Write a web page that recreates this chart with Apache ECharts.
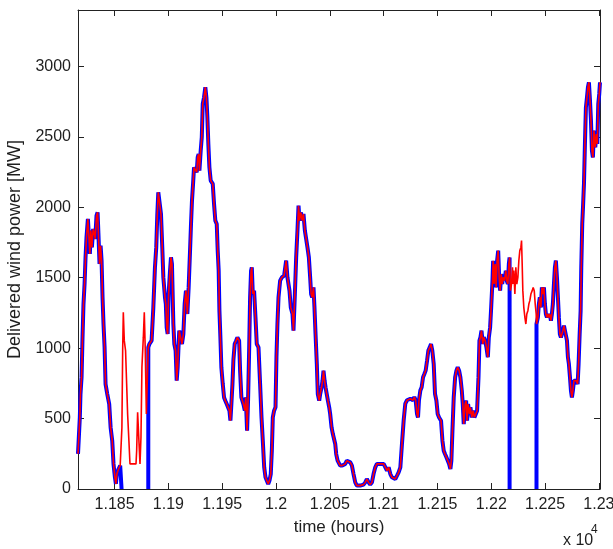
<!DOCTYPE html>
<html>
<head>
<meta charset="utf-8">
<script src="https://cdn.jsdelivr.net/npm/echarts@6/dist/echarts.min.js"></script>
<style>
  html, body { margin: 0; padding: 0; background: #fff; }
  #chart { width: 613px; height: 549px; }
</style>
</head>
<body>
<div id="chart"></div>
<script>
// hours and delivered power [MW], split where the blue trace drops out
var hoursSeg1 = [11816,11817.7,11818.3,11819.3,11820.2,11821.1,11822.1,11823,11823.9,11825.2,11826.4,11827,11827.9,11828.9,11830.1,11831,11832,11833.2,11834.2,11835.1,11836,11837,11837.9,11838.8,11839.7,11840.7,11841.6,11843.2,11845,11846.3,11847.8,11849,11850.3,11851.2,11852.1,11853.7,11855.2,11856.5];
var powerSeg1 = [250,508,674,792,1076,1313,1455,1644,1786,1917,1929,1668,1834,1715,1846,1822,1775,1940,1964,1786,1597,1727,1621,1360,1171,1005,745,674,603,437,343,178,83,36,106,142,166,166];

// red only (blue is out here)
var hoursGap1 = [11856.8,11857.5,11858.1,11859,11860.2,11861.2,11862.1,11863.3,11864.3,11869.9,11870.5,11871.4,11873,11873.6,11874.5,11875.4,11876.7,11877.6,11878.5,11879.5,11880.7];
var powerGap1 = [437,982,1254,1053,982,745,532,343,178,178,272,544,544,178,366,864,1076,1254,982,532,532];

var hoursSeg2 = [11881.3,11882.3,11884.4,11886,11887.5,11888.7,11889.7,11890.6,11892.2,11893.1,
  11894.3,11895.3,11896.8,11897.6,11898.4,11899.3,11900.2,11901.5,11902.4,11903.3,
  11904.6,11905.5,11906.7,11907.7,11908.6,11909.5,11910.1,11911.4,11912.6,11913.9,
  11915.1,11916.3,11917.6,11918.8,11920.1,11921,11921.9,11922.9,11923.8,11925,
  11926.3,11927.2,11928.1,11928.8,11930,11931,11931.9,11933.1,11934.3,11935.3,
  11936.2,11937.1,11938.1,11939.3,11941.2,11942.4,11943.6,11944.9,11945.8,11946.7,
  11947.4,11948.3,11949.2,11950.5,11951.7,11952.9,11954.2,11955.7,11956.7,11957.6,
  11958.5,11959.5,11960.4,11961.6,11962.9,11964.1,11965.7,11966.6,11967.8,11969.7,
  11971,11971.9,11973.1,11974,11975,11975.9,11976.8,11977.5,11978.4,11979.6,
  11980.9,11982.1,11983.7,11985.2,11986.5,11987.7,11989,11990.2,11991.4,11992.7,
  11993.9,11995.1,11996.1,11997,11998.2,11999.5,12000.4,12001.3,12002.3,12003.8];
var powerSeg2 = [1005,1029,1053,1289,1573,1715,1952,2106,2095,1952,
  1715,1502,1360,1313,1147,1100,1384,1550,1644,1597,
  1171,1029,982,769,864,1029,1124,1076,1029,1100,
  1313,1408,1242,1431,1692,1881,2047,2166,2283,2295,
  2248,2354,2378,2260,2402,2496,2733,2780,2852,2780,
  2638,2450,2283,2189,2166,2023,1905,1881,1692,1550,
  1266,1076,864,745,650,627,603,603,556,485,
  603,745,917,1029,1053,1076,1053,840,650,603,
  556,650,414,627,982,1360,1550,1573,1384,1408,
  1218,1029,1005,745,508,343,154,83,60,36,
  60,106,273,508,556,580,941,1171,1360,1479];

var hoursSeg3 = [12005.4,12007.5,12009.4,12010.6,12012.5,12013.7,12015.3,12016.2,12017.5,12018.7,
  12019.9,12020.9,12021.8,12023,12024.3,12025.5,12026.8,12028,12029.2,12030.5,
  12031.7,12032.6,12033.6,12034.8,12035.7,12036.7,12037.9,12038.8,12040.1,12041,
  12042.3,12043.2,12044.1,12045.1,12046,12047.2,12048.2,12049.4,12050.3,12051.6,
  12052.8,12054,12055,12055.9,12057.2,12058.4,12059.6,12061.5,12062.7,12064.3,
  12065.8,12067.4,12069,12070.5,12072,12073.6,12075.1,12078.2,12079.7,12081.3,
  12082.9,12084.4,12086,12087.5,12089.1,12090.6,12092.2,12093.7,12095.3,12096.9,
  12098.4,12100,12101.5,12103.1,12104.6,12106.2,12107.7,12109.3,12110.8,12112.4,
  12113.9,12115.5,12117,12118.6,12120.1,12121.7,12123.2,12124.8,12126,12127.3,
  12128.5,12129.7,12131,12131.9,12132.8,12134.1,12135.3,12136.6,12137.8,12139,
  12140.3,12141.5,12142.8,12144];
var powerSeg3 = [1502,1514,1621,1502,1408,1289,1242,1124,1384,1644,
  1834,2011,1905,1964,1905,1952,1834,1775,1715,1644,
  1502,1384,1360,1431,1289,1100,887,674,627,674,
  722,769,840,769,722,722,627,580,532,437,
  390,390,320,248,201,189,166,166,178,178,
  201,189,189,166,106,47,24,24,24,31,
  47,71,47,31,47,106,154,178,166,178,
  166,178,166,130,154,106,83,71,71,95,
  118,154,320,488,606,630,618,641,653,630,
  653,630,532,508,630,700,722,793,816,840,
  911,982,1005,1029];

var hoursSeg4 = [12145.2,12146.5,12147.7,12149,12150.2,12151.5,12153.3,12154.6,12155.8,12157,
  12158.3,12159.5,12160.8,12162,12162.9,12163.9,12165.1,12166.4,12167.6,12168.8,
  12170.1,12171.3,12172.6,12173.5,12174.4,12175.7,12176.6,12177.5,12178.4,12179.7,
  12180.6,12181.9,12183.1,12184.3,12185.6,12186.8,12188.1,12189,12189.9,12190.9,
  12192.1,12193,12194.3,12195.5,12196.8,12197.7,12198.9,12199.9,12201.1,12201.7,
  12202.6,12203.6,12204.5,12205.4,12206.4,12207.3,12208.2,12209.2,12210.1,12211,
  12212.3,12213.5,12214.4,12215.4,12216.3,12217];
var powerSeg4 = [982,887,675,627,532,508,485,343,272,248,
  225,213,178,142,201,414,650,792,840,864,
  840,792,698,603,461,603,627,485,603,532,
  580,508,556,508,497,556,792,1053,1076,1124,
  1029,1076,1053,1005,935,1076,1147,1289,1478,1620,
  1455,1597,1431,1621,1692,1502,1408,1526,1455,1502,
  1479,1550,1479,1455,1597,1644];

// red only (blue is out here)
var hoursGap2 = [12217.8,12218.8,12219.7,12220.3,12220.9,12221.9,12222.8,12223.7,12224.7,12225.6,12226.5,12227.5,12228.1,12228.7,12229.3,12230.2,12231.2,12232.1,12233,12234,12234.9,12235.8,12236.8,12238,12238.9,12239.9,12240.8,12241.7];
var powerGap2 = [1408,1455,1573,1455,1550,1384,1573,1455,1502,1621,1692,1715,1763,1597,1408,1289,1218,1171,1242,1266,1313,1337,1384,1408,1431,1408,1313,1242];

var hoursSeg5 = [12242,12243.3,12244.2,12245.1,12246.1,12247,12248,12248.9,12249.8,12250.7,
  12251.7,12252.6,12253.5,12254.4,12255.4,12256.3,12257.2,12258.2,12259.1,12260,
  12261,12261.9,12262.8,12263.7,12264.7,12265.6,12266.5,12267.5,12268.4,12269.3,
  12270.3,12271.2,12272.1,12273.1,12274,12274.9,12275.8,12276.8,12277.7,12278.9,
  12280.2,12281.1,12282.1,12283,12283.6,12284.5,12285.2,12286.1,12287,12287.9,
  12288.9,12289.8,12290.7,12291.7,12292.6,12293.5,12294.4,12295.4,12296.6,12297.6,
  12298.5,12299.4,12300.3,12301];
var powerSeg5 = [1171,1218,1313,1360,1289,1431,1384,1431,1313,1242,
  1218,1242,1218,1242,1195,1242,1313,1455,1573,1621,
  1502,1360,1218,1100,1076,1100,1124,1159,1171,1147,
  1053,935,887,792,698,650,698,769,780,769,
  745,887,1100,1266,1573,1881,1999,2166,2450,2709,
  2780,2852,2887,2756,2615,2402,2354,2544,2425,2520,
  2450,2733,2804,2887];

var xTicks = [11850,11900,11950,12000,12050,12100,12150,12200,12250,12300];
var yTicks = [0,500,1000,1500,2000,2500,3000];

function pairs(h, p) {
  var out = [];
  for (var i = 0; i < Math.min(h.length, p.length); i++) out.push([h[i], p[i]]);
  return out;
}

var seg1 = pairs(hoursSeg1, powerSeg1);
var seg2 = pairs(hoursSeg2, powerSeg2);
var seg3 = pairs(hoursSeg3, powerSeg3);
var seg4 = pairs(hoursSeg4, powerSeg4);
var seg5 = pairs(hoursSeg5, powerSeg5);

// blue: falls to zero at the start of each outage, comes back from zero at the end
var blueData = [].concat(
  seg1,
  [[hoursSeg1[hoursSeg1.length - 1], 0], [11868, null], [hoursSeg2[0], 0]],
  seg2, seg3, seg4,
  [[hoursSeg4[hoursSeg4.length - 1], 0], [12230, null], [hoursSeg5[0], 0]],
  seg5
);
var redData = [].concat(seg1, pairs(hoursGap1, powerGap1), seg2, seg3, seg4, pairs(hoursGap2, powerGap2), seg5);

var font = 'Liberation Sans, Arial, sans-serif';
var txt = '#1e1e1e';

var myChart = echarts.init(document.getElementById('chart'));
var option = {
  animation: false,
  backgroundColor: '#fff',
  grid: { left: 78, right: 13, top: 10, bottom: 60, outerBoundsMode: 'none', containLabel: false },
  xAxis: [
    {
      type: 'value', min: 11816, max: 12301, position: 'bottom',
      name: 'time (hours)', nameLocation: 'middle', nameGap: 30,
      nameTextStyle: { fontFamily: font, fontSize: 17, color: txt },
      axisLine: { show: true, onZero: false, lineStyle: { color: '#222', width: 1 } },
      axisTick: { show: true, inside: true, length: 6, customValues: xTicks, lineStyle: { color: '#222' } },
      axisLabel: {
        customValues: xTicks, margin: 8, fontFamily: font, fontSize: 16, color: txt,
        formatter: function (v) { return String(parseFloat((v / 10000).toFixed(4))); }
      },
      splitLine: { show: false }
    },
    {
      type: 'value', min: 11816, max: 12301, position: 'top',
      axisLine: { show: true, onZero: false, lineStyle: { color: '#222', width: 1 } },
      axisTick: { show: true, inside: true, length: 6, customValues: xTicks, lineStyle: { color: '#222' } },
      axisLabel: { show: false },
      splitLine: { show: false }
    }
  ],
  yAxis: [
    {
      type: 'value', min: 0, max: 3400, position: 'left',
      name: 'Delivered wind power [MW]', nameLocation: 'middle', nameGap: 45,
      nameTextStyle: { fontFamily: font, fontSize: 18, color: txt },
      axisLine: { show: true, onZero: false, lineStyle: { color: '#222', width: 1 } },
      axisTick: { show: true, inside: true, length: 6, customValues: yTicks, lineStyle: { color: '#222' } },
      axisLabel: {
        customValues: yTicks, margin: 7, fontFamily: font, fontSize: 16, color: txt,
        formatter: function (v) { return String(v); }
      },
      splitLine: { show: false }
    },
    {
      type: 'value', min: 0, max: 3400, position: 'right',
      axisLine: { show: true, onZero: false, lineStyle: { color: '#222', width: 1 } },
      axisTick: { show: true, inside: true, length: 6, customValues: yTicks, lineStyle: { color: '#222' } },
      axisLabel: { show: false },
      splitLine: { show: false }
    }
  ],
  graphic: [
    { type: 'text', left: 563, top: 533, style: { text: 'x 10', font: '16px ' + font, fill: txt } },
    { type: 'text', left: 591, top: 524, style: { text: '4', font: '12px ' + font, fill: txt } }
  ],
  series: [
    {
      name: 'blue', type: 'line', data: blueData, showSymbol: false, connectNulls: false,
      lineStyle: { color: '#0000ff', width: 4 }, z: 2
    },
    {
      name: 'red', type: 'line', data: redData, showSymbol: false,
      lineStyle: { color: '#ff0000', width: 1.6 }, z: 3
    }
  ]
};
myChart.setOption(option);
</script>
</body>
</html>
